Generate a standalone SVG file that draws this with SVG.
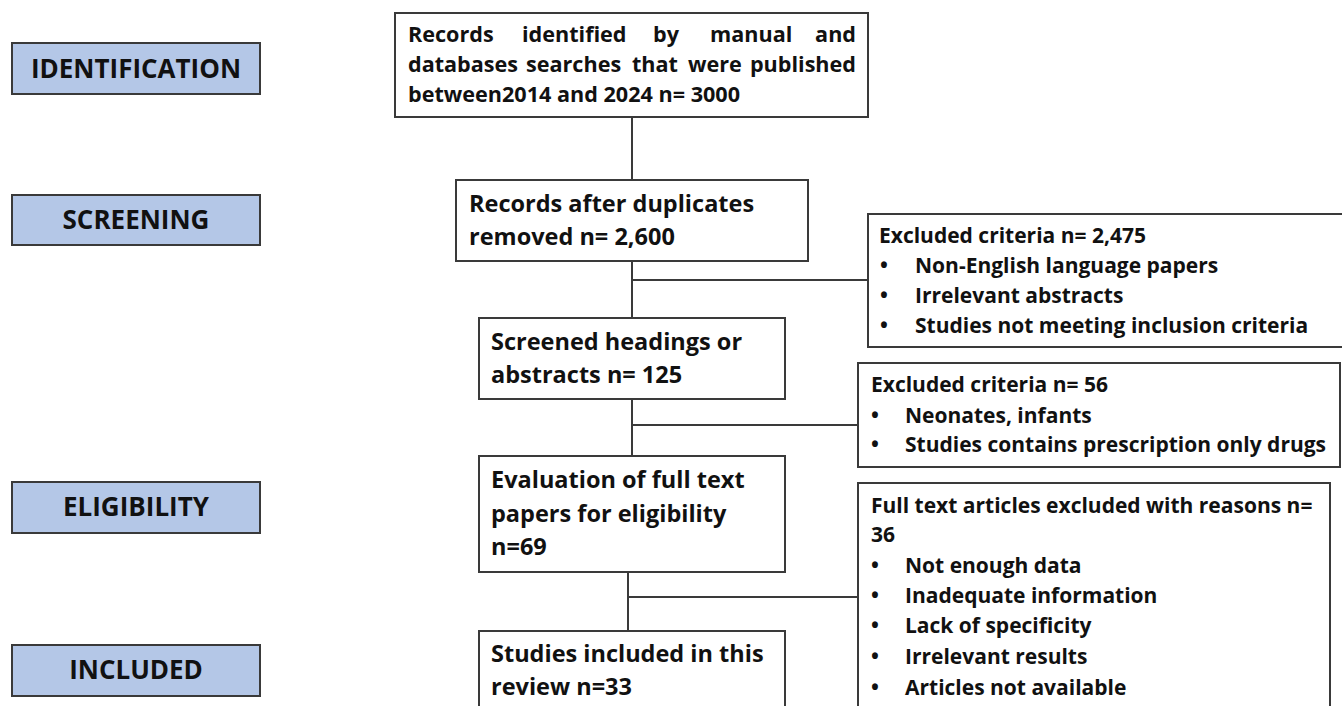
<svg xmlns="http://www.w3.org/2000/svg" width="1342" height="706" viewBox="0 0 1342 706">
<style>
.stage{fill:#b4c7e7;stroke:#3a3a3a;stroke-width:2}
.box{fill:#fff;stroke:#3a3a3a;stroke-width:2}
.lbl{font-family:"Open Sans","Liberation Sans",sans-serif;font-weight:700;font-size:26px;fill:#111;text-anchor:middle}
.t{font-family:"Open Sans","Liberation Sans",sans-serif;font-weight:700;font-size:23.5px;fill:#111}
.tt{font-family:"Open Sans","Liberation Sans",sans-serif;font-weight:700;font-size:21.6px;fill:#111}
.s{font-family:"Open Sans","Liberation Sans",sans-serif;font-weight:700;font-size:21px;fill:#111}
.end{text-anchor:end}
.conn line{stroke:#3a3a3a;stroke-width:2}
</style>
<rect width="1342" height="706" fill="#fff"/>
<g id="stage-identification"><rect class="stage" x="12" y="43" width="248" height="51"/><text class="lbl" x="136" y="78">IDENTIFICATION</text></g>
<g id="stage-screening"><rect class="stage" x="12" y="195" width="248" height="50"/><text class="lbl" x="136" y="229">SCREENING</text></g>
<g id="stage-eligibility"><rect class="stage" x="12" y="482" width="248" height="51"/><text class="lbl" x="136" y="516">ELIGIBILITY</text></g>
<g id="stage-included"><rect class="stage" x="12" y="645" width="248" height="51"/><text class="lbl" x="136" y="679">INCLUDED</text></g>

<g class="conn" id="connectors">
<line x1="632" y1="117" x2="632" y2="180"/>
<line x1="632" y1="261" x2="632" y2="318"/>
<line x1="632" y1="280" x2="868" y2="280"/>
<line x1="632" y1="399" x2="632" y2="456"/>
<line x1="632" y1="425" x2="858" y2="425"/>
<line x1="628" y1="572" x2="628" y2="631"/>
<line x1="628" y1="597" x2="858" y2="597"/>
</g>

<g id="identified"><rect class="box" x="395" y="13" width="473" height="104"/>
<text class="tt" y="42"><tspan x="408">Records</tspan><tspan x="522">identified</tspan><tspan x="653">by</tspan><tspan x="710">manual</tspan></text>
<text class="tt end" x="856" y="42">and</text>
<text class="tt" y="72"><tspan x="408">databases</tspan><tspan x="526">searches</tspan><tspan x="632">that</tspan><tspan x="688">were</tspan></text>
<text class="tt end" x="856" y="72">published</text>
<text class="tt" x="408" y="102">between2014 and 2024 n= 3000</text></g>

<g id="duplicates"><rect class="box" x="456" y="180" width="352" height="81"/>
<text class="t" x="469" y="212">Records after duplicates</text>
<text class="t" x="469" y="245">removed n= 2,600</text></g>

<g id="screened"><rect class="box" x="479" y="318" width="306" height="81"/>
<text class="t" x="491" y="350">Screened headings or</text>
<text class="t" x="491" y="383">abstracts n= 125</text></g>

<g id="fulltext"><rect class="box" x="479" y="456" width="306" height="116"/>
<text class="t" x="491" y="488">Evaluation of full text</text>
<text class="t" x="491" y="522">papers for eligibility</text>
<text class="t" x="491" y="555">n=69</text></g>

<g id="included"><rect class="box" x="479" y="631" width="306" height="100"/>
<text class="t" x="491" y="662">Studies included in this</text>
<text class="t" x="491" y="695">review n=33</text></g>

<g id="excluded-1"><rect class="box" x="868" y="214" width="490" height="133"/>
<text class="s" x="879" y="243">Excluded criteria n= 2,475</text>
<text class="s" x="880" y="273">•</text><text class="s" x="915" y="273">Non-English language papers</text>
<text class="s" x="880" y="303">•</text><text class="s" x="915" y="303">Irrelevant abstracts</text>
<text class="s" x="880" y="333">•</text><text class="s" x="915" y="333">Studies not meeting inclusion criteria</text></g>

<g id="excluded-2"><rect class="box" x="858" y="363" width="482" height="104"/>
<text class="s" x="871" y="392">Excluded criteria n= 56</text>
<text class="s" x="871" y="423">•</text><text class="s" x="905" y="423">Neonates, infants</text>
<text class="s" x="871" y="452">•</text><text class="s" x="905" y="452">Studies contains prescription only drugs</text></g>

<g id="excluded-3"><rect class="box" x="858" y="483" width="472" height="250"/>
<text class="s" x="871" y="513">Full text articles excluded with reasons n=</text>
<text class="s" x="871" y="542">36</text>
<text class="s" x="871" y="573">•</text><text class="s" x="905" y="573">Not enough data</text>
<text class="s" x="871" y="603">•</text><text class="s" x="905" y="603">Inadequate information</text>
<text class="s" x="871" y="633">•</text><text class="s" x="905" y="633">Lack of specificity</text>
<text class="s" x="871" y="664">•</text><text class="s" x="905" y="664">Irrelevant results</text>
<text class="s" x="871" y="695">•</text><text class="s" x="905" y="695">Articles not available</text></g>
</svg>
